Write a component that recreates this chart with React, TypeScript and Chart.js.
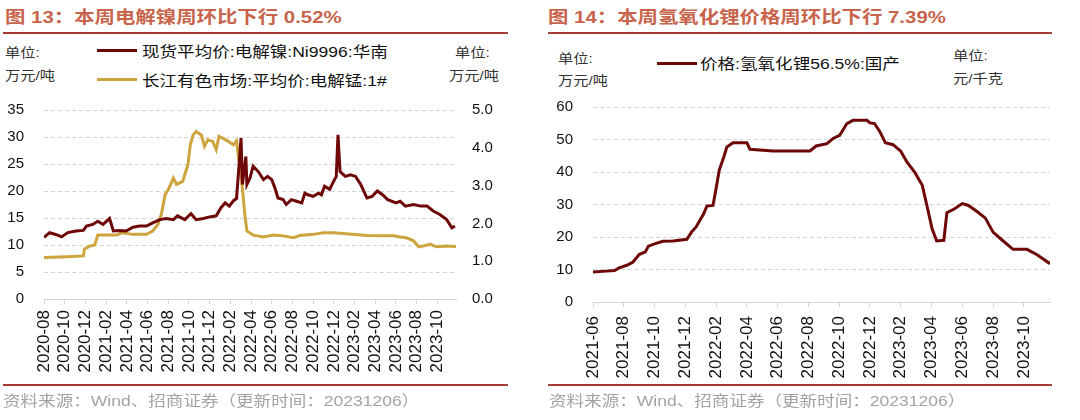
import React, { useEffect, useRef } from "react";
import { Chart, registerables } from "chart.js";
Chart.register(...registerables);

// ---------- data ----------
const niDates = ["2020-08-01","2020-08-17","2020-09-07","2020-09-22","2020-10-10","2020-11-04","2020-11-25","2020-12-04","2020-12-22","2021-01-07","2021-01-22","2021-02-11","2021-02-22","2021-03-10","2021-03-29","2021-04-19","2021-05-08","2021-05-28","2021-06-16","2021-07-07","2021-07-25","2021-08-16","2021-08-28","2021-09-19","2021-10-07","2021-10-22","2021-11-13","2021-12-01","2021-12-20","2022-01-04","2022-01-16","2022-01-28","2022-02-10","2022-02-19","2022-03-02","2022-03-06","2022-03-10","2022-03-16","2022-03-19","2022-03-28","2022-04-07","2022-04-22","2022-05-07","2022-05-19","2022-06-01","2022-06-10","2022-06-19","2022-07-04","2022-07-13","2022-07-28","2022-08-13","2022-08-28","2022-09-07","2022-09-16","2022-10-01","2022-10-16","2022-10-25","2022-11-04","2022-11-19","2022-11-28","2022-12-08","2022-12-13","2022-12-19","2023-01-04","2023-01-19","2023-02-04","2023-02-19","2023-03-07","2023-03-22","2023-04-07","2023-04-22","2023-05-07","2023-06-01","2023-06-13","2023-06-28","2023-07-22","2023-08-13","2023-09-01","2023-09-19","2023-10-07","2023-10-28","2023-11-13","2023-11-22"];
const niValues = [11.4,12.3,11.9,11.5,12.3,12.6,12.7,13.5,13.8,14.4,13.8,14.9,12.6,12.7,12.6,13.3,13.5,13.5,14.1,14.7,14.9,14.7,15.4,14.7,15.8,14.7,14.9,15.2,15.4,16.9,17.8,17.2,18.2,18.6,29.8,21.2,23.3,26.4,21.2,22.4,24.6,23.6,22.1,22.7,22.1,20.6,18.7,18.4,17.5,18.4,18.1,17.8,19.6,19.3,19.0,19.6,19.3,20.9,20.3,21.5,22.7,30.4,23.6,22.7,23.0,22.7,21.2,18.7,19.0,20.0,19.3,18.4,17.8,18.1,17.2,17.5,17.2,17.2,16.3,15.7,14.7,13.2,13.5];

const mnDates = ["2020-08-01","2020-10-07","2020-11-25","2020-11-28","2020-12-13","2020-12-28","2021-01-07","2021-02-01","2021-03-01","2021-03-16","2021-04-19","2021-05-28","2021-06-16","2021-07-01","2021-07-11","2021-07-22","2021-08-01","2021-08-16","2021-08-25","2021-09-13","2021-09-22","2021-09-28","2021-10-05","2021-10-13","2021-10-22","2021-11-07","2021-11-16","2021-11-26","2021-12-10","2021-12-20","2021-12-28","2022-01-10","2022-01-25","2022-02-10","2022-02-19","2022-02-25","2022-03-04","2022-03-13","2022-03-19","2022-04-07","2022-05-07","2022-06-07","2022-07-04","2022-08-04","2022-08-22","2022-10-01","2022-11-01","2022-11-28","2022-12-28","2023-01-25","2023-03-07","2023-04-25","2023-05-25","2023-06-13","2023-07-01","2023-07-22","2023-08-07","2023-08-19","2023-09-10","2023-09-28","2023-10-28","2023-11-25"];
const mnValues = [1.10,1.12,1.14,1.32,1.40,1.43,1.69,1.69,1.69,1.75,1.71,1.71,1.80,1.97,2.24,2.76,2.89,3.20,3.03,3.11,3.38,3.55,4.08,4.34,4.43,4.34,4.04,4.21,4.17,3.95,4.30,4.25,4.17,4.08,4.18,3.73,3.11,2.24,1.80,1.69,1.64,1.69,1.67,1.62,1.68,1.71,1.75,1.75,1.73,1.71,1.68,1.67,1.67,1.64,1.62,1.54,1.38,1.40,1.45,1.38,1.40,1.39];

const liDates = ["2021-06-01","2021-06-27","2021-07-13","2021-07-22","2021-08-07","2021-08-19","2021-09-01","2021-09-13","2021-09-19","2021-10-01","2021-10-17","2021-11-07","2021-12-04","2021-12-13","2021-12-22","2022-01-07","2022-01-13","2022-01-25","2022-02-01","2022-02-07","2022-02-16","2022-02-22","2022-03-04","2022-04-01","2022-04-07","2022-05-22","2022-08-04","2022-08-16","2022-09-07","2022-09-19","2022-10-02","2022-10-16","2022-10-28","2022-11-25","2022-12-01","2022-12-10","2022-12-20","2023-01-01","2023-01-16","2023-02-01","2023-02-13","2023-02-28","2023-03-13","2023-03-22","2023-04-02","2023-04-11","2023-04-25","2023-05-01","2023-05-16","2023-06-01","2023-06-13","2023-07-01","2023-07-16","2023-08-01","2023-08-19","2023-09-10","2023-10-07","2023-10-26","2023-11-22"];
const liValues = [9.2,9.5,9.7,10.5,11.3,12.3,14.6,15.4,17.2,17.9,18.7,18.8,19.3,21.5,23.1,27.2,29.5,29.7,34.9,40.5,44.6,47.7,49.0,49.0,47.0,46.5,46.5,48.0,48.7,50.3,51.3,54.9,55.9,55.9,55.1,54.9,52.5,49.0,48.4,46.4,43.1,40.0,35.9,29.7,22.6,18.8,19.0,27.5,28.7,30.3,29.7,27.7,25.8,21.5,19.0,16.2,16.2,14.6,11.8];

const leftTickLabels = ["2020-08","2020-10","2020-12","2021-02","2021-04","2021-06","2021-08","2021-10","2021-12","2022-02","2022-04","2022-06","2022-08","2022-10","2022-12","2023-02","2023-04","2023-06","2023-08","2023-10"];
const rightTickLabels = ["2021-06","2021-08","2021-10","2021-12","2022-02","2022-04","2022-06","2022-08","2022-10","2022-12","2023-02","2023-04","2023-06","2023-08","2023-10"];

const niLabel = "现货平均价:电解镍:Ni9996:华南";
const mnLabel = "长江有色市场:平均价:电解锰:1#";
const liLabel = "价格:氢氧化锂56.5%:国产";

// ---------- helpers ----------
const toM = (d: string) => {
  const p = d.split("-").map(Number);
  const day = p[2] || 1;
  return (p[0] - 2020) * 12 + (p[1] - 1) + (day - 1) / 30;
};
const pts = (dates: string[], vals: number[]) => dates.map((d, i) => ({ x: toM(d), y: vals[i] }));

const TICK_FONT = "'Liberation Sans', Arial, sans-serif";
const TXT_FONT = "'Liberation Sans', 'Noto Sans CJK SC', sans-serif";
const NI_COLOR = "#6E0808";
const MN_COLOR = "#CDA43E";
const GRID = "#D4D4D4";
const STRETCH = 1.17;

function makeX(labels: string[], max: number, height: number, pad: number) {
  const vals = labels.map((l) => toM(l + "-01"));
  return {
    type: "linear",
    min: vals[0],
    max,
    afterBuildTicks: (s: any) => { s.ticks = vals.map((v) => ({ value: v })); },
    afterFit: (s: any) => { s.height = height; },
    ticks: {
      autoSkip: false,
      minRotation: 90,
      maxRotation: 90,
      padding: pad,
      color: "#111",
      font: { family: TICK_FONT, size: 17 },
      callback: (_v: any, i: number) => labels[i],
    },
    grid: { drawOnChartArea: false, drawTicks: true, tickLength: 5, color: GRID },
    border: { display: true, color: GRID, width: 1 },
  };
}

function ChartCanvas({ cfg, left, top, width, height }: any) {
  const ref = useRef<HTMLCanvasElement | null>(null);
  useEffect(() => {
    const c = new Chart(ref.current as HTMLCanvasElement, cfg());
    return () => c.destroy();
  }, []);
  return (
    <canvas
      ref={ref}
      width={width}
      height={height}
      style={{ position: "absolute", left, top, width, height }}
    />
  );
}

const leftCfg = () => ({
  type: "line",
  data: {
    datasets: [
      { label: niLabel, data: pts(niDates, niValues), borderColor: NI_COLOR, borderWidth: 3, pointRadius: 0, tension: 0, yAxisID: "y" },
      { label: mnLabel, data: pts(mnDates, mnValues), borderColor: MN_COLOR, borderWidth: 3, pointRadius: 0, tension: 0, yAxisID: "y1" },
    ],
  },
  options: {
    animation: false,
    responsive: false,
    maintainAspectRatio: false,
    layout: { padding: { top: 13, right: 0, left: 0, bottom: 0 } },
    plugins: { legend: { display: false }, tooltip: { enabled: false } },
    scales: {
      x: makeX(leftTickLabels, toM("2023-11-25"), 86, 6),
      y: {
        min: 0, max: 35,
        afterFit: (s: any) => { s.width = 44; },
        ticks: { stepSize: 5, padding: 20, color: "#111", font: { family: TICK_FONT, size: 15 } },
        grid: { color: GRID, drawTicks: false, lineWidth: 1 },
        border: { display: false, dash: [4, 3] },
      },
      y1: {
        position: "right",
        min: 0, max: 5,
        afterFit: (s: any) => { s.width = 59; },
        ticks: { stepSize: 1, padding: 16, color: "#111", font: { family: TICK_FONT, size: 15 }, callback: (v: any) => Number(v).toFixed(1) },
        grid: { display: false, drawTicks: false },
        border: { display: false },
      },
    },
  },
});

const rightCfg = () => ({
  type: "line",
  data: {
    datasets: [
      { label: liLabel, data: pts(liDates, liValues), borderColor: NI_COLOR, borderWidth: 3, pointRadius: 0, tension: 0, yAxisID: "y" },
    ],
  },
  options: {
    animation: false,
    responsive: false,
    maintainAspectRatio: false,
    layout: { padding: { top: 10, right: 5, left: 0, bottom: 0 } },
    plugins: { legend: { display: false }, tooltip: { enabled: false } },
    scales: {
      x: makeX(rightTickLabels, toM("2023-11-22"), 83, 9),
      y: {
        min: 0, max: 60,
        afterFit: (s: any) => { s.width = 53; },
        ticks: { stepSize: 10, padding: 20, color: "#111", font: { family: TICK_FONT, size: 15 } },
        grid: { color: GRID, drawTicks: false, lineWidth: 1 },
        border: { display: false, dash: [4, 3] },
      },
    },
  },
});

function T({ x, y, size, children, color = "#222", bold = false, stretch = STRETCH }: any) {
  return (
    <div
      style={{
        position: "absolute",
        left: x,
        top: y - size / 2 - 1,
        fontSize: size,
        lineHeight: size + 2 + "px",
        fontFamily: TXT_FONT,
        fontWeight: bold ? 700 : 400,
        color,
        whiteSpace: "nowrap",
        transform: `scaleX(${stretch})`,
        transformOrigin: "left center",
      }}
    >
      {children}
    </div>
  );
}

function Rule({ x1, x2, y, color, h = 2 }: any) {
  return <div style={{ position: "absolute", left: x1, top: y - h / 2, width: x2 - x1, height: h, background: color }} />;
}

const TITLE_COLOR = "#C8644B";
const RULE_COLOR = "#A83A36";
const SRC_COLOR = "#A3A3A3";

export default function App() {
  return (
    <div style={{ position: "absolute", left: 0, top: 0, width: 1080, height: 420, background: "#fff", overflow: "hidden" }}>
      {/* left panel */}
      <T x={5} y={17} size={17} bold color={TITLE_COLOR} stretch={1.2}>图 13：本周电解镍周环比下行 0.52%</T>
      <Rule x1={3} x2={508} y={33} color={RULE_COLOR} />
      <T x={5} y={52} size={13} color="#333">单位:</T>
      <T x={5} y={75} size={13} color="#333">万元/吨</T>
      <T x={455} y={52} size={13} color="#333">单位:</T>
      <T x={449} y={75} size={13} color="#333">万元/吨</T>
      <Rule x1={97} x2={137} y={50} color={NI_COLOR} h={3} />
      <T x={142} y={51} size={15} color="#111">{niLabel}</T>
      <Rule x1={97} x2={137} y={79} color={MN_COLOR} h={3} />
      <T x={142} y={80} size={15} color="#111">{mnLabel}</T>
      <ChartCanvas cfg={leftCfg} left={0} top={81} width={515} height={304} />
      <Rule x1={3} x2={508} y={385} color={RULE_COLOR} />
      <T x={3} y={400} size={15} color={SRC_COLOR}>资料来源：Wind、招商证券（更新时间：20231206）</T>

      {/* right panel */}
      <T x={548} y={17} size={17} bold color={TITLE_COLOR} stretch={1.2}>图 14：本周氢氧化锂价格周环比下行 7.39%</T>
      <Rule x1={548} x2={1052} y={33} color={RULE_COLOR} />
      <T x={558} y={58} size={13} color="#333">单位:</T>
      <T x={558} y={80} size={13} color="#333">万元/吨</T>
      <T x={953} y={55} size={13} color="#333">单位:</T>
      <T x={953} y={78} size={13} color="#333">元/千克</T>
      <Rule x1={657} x2={697} y={63} color={NI_COLOR} h={3} />
      <T x={700} y={63} size={15} color="#111">{liLabel}</T>
      <ChartCanvas cfg={rightCfg} left={540} top={78} width={515} height={307} />
      <Rule x1={548} x2={1052} y={385} color={RULE_COLOR} />
      <T x={549} y={400} size={15} color={SRC_COLOR}>资料来源：Wind、招商证券（更新时间：20231206）</T>
    </div>
  );
}
